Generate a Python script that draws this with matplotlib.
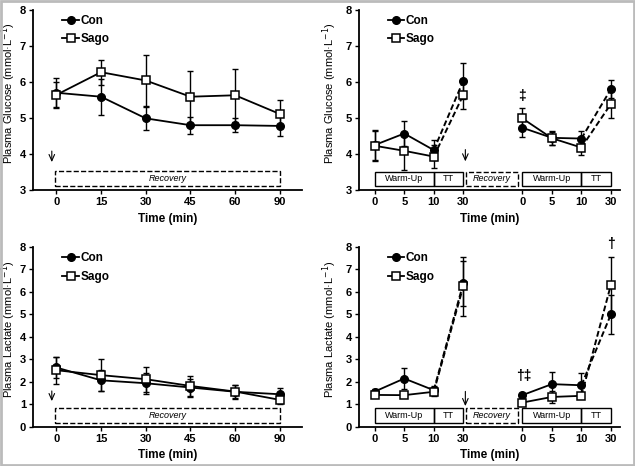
import numpy as np
import matplotlib.pyplot as plt
from matplotlib.patches import Rectangle
from matplotlib.lines import Line2D

plt.rcParams['font.family'] = ['Liberation Sans', 'DejaVu Sans']

# recovery time course (left panels)
rec_ticks = ['0', '15', '30', '45', '60', '90']
glu_rec_con = [5.70, 5.59, 4.99, 4.80, 4.80, 4.78]
glu_rec_con_err = [0.40, 0.50, 0.32, 0.24, 0.20, 0.27]
glu_rec_sago = [5.64, 6.27, 6.04, 5.59, 5.63, 5.11]
glu_rec_sago_err = [0.35, 0.35, 0.70, 0.72, 0.74, 0.40]
lac_rec_con = [2.64, 2.07, 1.94, 1.75, 1.56, 1.45]
lac_rec_con_err = [0.45, 0.47, 0.46, 0.40, 0.30, 0.30]
lac_rec_sago = [2.52, 2.30, 2.12, 1.82, 1.57, 1.20]
lac_rec_sago_err = [0.60, 0.70, 0.56, 0.45, 0.30, 0.20]

# exercise bouts (right panels): two bouts of 0, 5, 10, 30 min
ex_ticks = ['0', '5', '10', '30', '0', '5', '10', '30']
glu_ex_con = [4.25, 4.57, 4.11, 6.03, 4.73, 4.45, 4.43, 5.80]
glu_ex_con_err = [0.42, 0.35, 0.28, 0.50, 0.27, 0.20, 0.20, 0.25]
glu_ex_sago = [4.23, 4.09, 3.93, 5.64, 4.99, 4.44, 4.18, 5.39]
glu_ex_sago_err = [0.42, 0.52, 0.33, 0.40, 0.30, 0.18, 0.20, 0.40]
lac_ex_con = [1.57, 2.15, 1.63, 6.38, 1.41, 1.90, 1.85, 5.00]
lac_ex_con_err = [0.10, 0.45, 0.17, 1.00, 0.10, 0.55, 0.56, 0.85]
lac_ex_sago = [1.42, 1.41, 1.56, 6.25, 1.08, 1.33, 1.38, 6.32]
lac_ex_sago_err = [0.10, 0.10, 0.20, 1.30, 0.10, 0.25, 0.10, 1.23]

rec_x = np.arange(len(rec_ticks))
ex_x = np.array([0, 1, 2, 3, 5, 6, 7, 8])

fig = plt.figure(figsize=(6.35, 4.66), dpi=100)
ax_gr = fig.add_axes([0.052, 0.592, 0.424, 0.387])
ax_ge = fig.add_axes([0.565, 0.592, 0.411, 0.387])
ax_lr = fig.add_axes([0.052, 0.084, 0.424, 0.386])
ax_le = fig.add_axes([0.565, 0.084, 0.411, 0.386])

con_style = dict(color='black', marker='o', markersize=5.5, markerfacecolor='black',
                 markeredgecolor='black')
sago_style = dict(color='black', marker='s', markersize=5.5, markerfacecolor='white',
                  markeredgecolor='black', markeredgewidth=1.1)
eb_kw = dict(ecolor='black', elinewidth=1.0, capsize=2, capthick=1.0, linestyle='none')
arrow_kw = dict(arrowstyle='->,head_length=0.45,head_width=0.2', lw=0.8, color='black')


def style_axes(ax, ymin, ylabel, xpos, xlabels, xlim, label_x):
    for s in ['top', 'right']:
        ax.spines[s].set_visible(False)
    ax.spines['left'].set_linewidth(1.3)
    ax.spines['bottom'].set_linewidth(1.3)
    ax.set_ylim(ymin, 8)
    ax.set_yticks(range(ymin, 9))
    ax.set_xlim(*xlim)
    ax.set_xticks(xpos)
    ax.set_xticklabels(xlabels)
    ax.tick_params(direction='out', length=3, width=1.0, labelsize=8, pad=2)
    for lab in ax.get_xticklabels() + ax.get_yticklabels():
        lab.set_fontweight('bold')
    ax.set_ylabel(ylabel, fontsize=8)
    ax.yaxis.set_label_coords(label_x, 0.54)
    ax.set_xlabel('Time (min)', fontsize=8.5, fontweight='bold', labelpad=4)
    handles = [Line2D([], [], lw=1.3, **con_style), Line2D([], [], lw=1.3, **sago_style)]
    ax.legend(handles, ['Con', 'Sago'], loc='upper left', bbox_to_anchor=(0.07, 1.03),
              frameon=False, handlelength=1.4, handletextpad=0.1, labelspacing=0.55,
              prop={'weight': 'bold', 'size': 8.5})


def plot_rec(ax, con, con_err, sago, sago_err, box, arrow):
    ax.errorbar(rec_x, con, yerr=con_err, **eb_kw)
    ax.errorbar(rec_x, sago, yerr=sago_err, **eb_kw)
    ax.plot(rec_x, con, lw=1.3, zorder=3, **con_style)
    ax.plot(rec_x, sago, lw=1.3, zorder=4, **sago_style)
    ax.add_patch(Rectangle((-0.02, box[0]), 5.02, box[1] - box[0], fill=False,
                           linestyle='--', lw=1.0, edgecolor='black'))
    ax.text(2.5, (box[0] + box[1]) / 2, 'Recovery', style='italic', fontsize=6.5,
            ha='center', va='center')
    ax.annotate('', xy=(-0.1, arrow[1]), xytext=(-0.1, arrow[0]), arrowprops=arrow_kw)


def plot_ex(ax, con, con_err, sago, sago_err, box, arrow):
    ax.errorbar(ex_x, con, yerr=con_err, **eb_kw)
    ax.errorbar(ex_x, sago, yerr=sago_err, **eb_kw)
    for vals, st, z in [(con, con_style, 3), (sago, sago_style, 4)]:
        for a in (0, 4):
            ax.plot(ex_x[a:a + 3], vals[a:a + 3], lw=1.3, color='black', zorder=2)
            ax.plot(ex_x[a + 2:a + 4], vals[a + 2:a + 4], lw=1.4, color='black',
                    linestyle=(0, (3, 1.5)), zorder=2)
        ax.plot(ex_x, vals, linestyle='none', zorder=z, **st)
    h = box[1] - box[0]
    yc = (box[0] + box[1]) / 2
    for x0, w, lab in [(0, 2, 'Warm-Up'), (2, 1, 'TT'), (5, 2, 'Warm-Up'), (7, 1, 'TT')]:
        ax.add_patch(Rectangle((x0, box[0]), w, h, fill=False, lw=1.0, edgecolor='black'))
        ax.text(x0 + w / 2, yc, lab, fontsize=6.5, ha='center', va='center')
    ax.add_patch(Rectangle((3.1, box[0]), 1.75, h, fill=False, linestyle='--', lw=1.0,
                           edgecolor='black'))
    ax.text(3.975, yc, 'Recovery', style='italic', fontsize=6.5, ha='center', va='center')
    ax.annotate('', xy=(3.07, arrow[1]), xytext=(3.07, arrow[0]), arrowprops=arrow_kw)


plot_rec(ax_gr, glu_rec_con, glu_rec_con_err, glu_rec_sago, glu_rec_sago_err,
         (3.12, 3.52), (4.16, 3.7))
style_axes(ax_gr, 3, 'Plasma Glucose (mmol·L$^{-1}$)', rec_x, rec_ticks, (-0.52, 5.5), -0.055)

plot_ex(ax_ge, glu_ex_con, glu_ex_con_err, glu_ex_sago, glu_ex_sago_err,
        (3.11, 3.51), (4.2, 3.72))
style_axes(ax_ge, 3, 'Plasma Glucose (mmol·L$^{-1}$)', ex_x, ex_ticks, (-0.54, 8.3), -0.075)
ax_ge.text(5, 5.62, '‡', fontsize=10, fontweight='bold', ha='center', va='center')

plot_rec(ax_lr, lac_rec_con, lac_rec_con_err, lac_rec_sago, lac_rec_sago_err,
         (0.17, 0.84), (1.72, 1.02))
style_axes(ax_lr, 0, 'Plasma Lactate (mmol·L$^{-1}$)', rec_x, rec_ticks, (-0.52, 5.5), -0.055)

plot_ex(ax_le, lac_ex_con, lac_ex_con_err, lac_ex_sago, lac_ex_sago_err,
        (0.19, 0.84), (1.7, 0.8))
style_axes(ax_le, 0, 'Plasma Lactate (mmol·L$^{-1}$)', ex_x, ex_ticks, (-0.54, 8.3), -0.075)
ax_le.text(5.05, 2.27, '†‡', fontsize=10, fontweight='bold', ha='center', va='center')
ax_le.text(8.0, 8.15, '†', fontsize=10, fontweight='bold', ha='center', va='center',
           clip_on=False)

fig.add_artist(Rectangle((0.002, 0.002), 0.996, 0.996, transform=fig.transFigure,
                         fill=False, edgecolor='#bbbbbb', lw=2))

fig.savefig('out.png', dpi=100)
